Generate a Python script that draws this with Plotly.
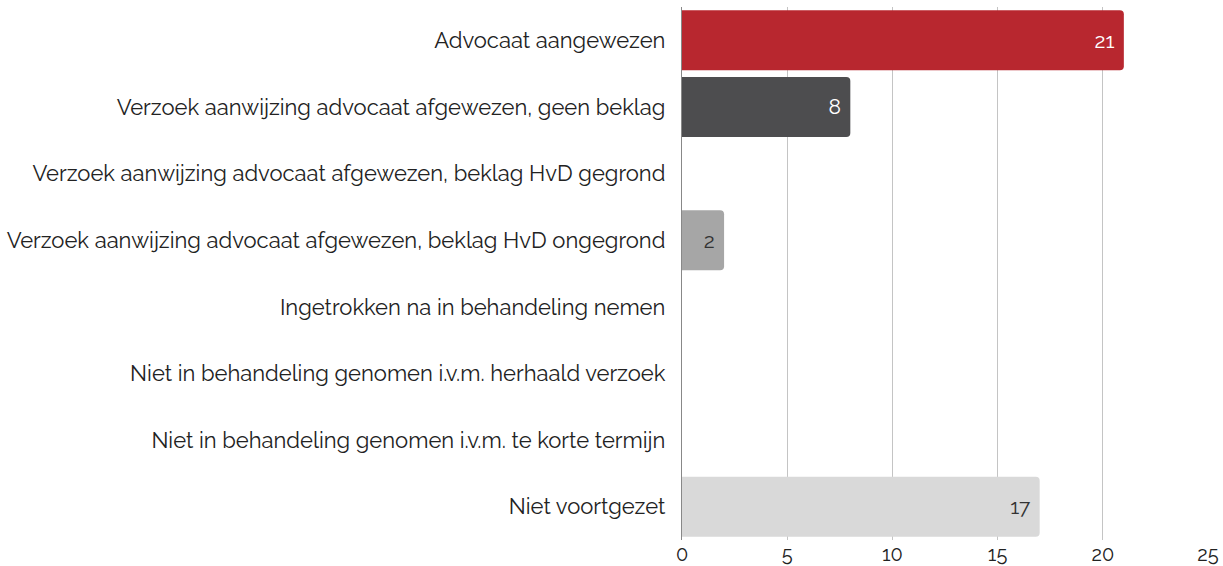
import plotly.graph_objects as go

categories = [
    "Advocaat aangewezen",
    "Verzoek aanwijzing advocaat afgewezen, geen beklag",
    "Verzoek aanwijzing advocaat afgewezen, beklag HvD gegrond",
    "Verzoek aanwijzing advocaat afgewezen, beklag HvD ongegrond",
    "Ingetrokken na in behandeling nemen",
    "Niet in behandeling genomen i.v.m. herhaald verzoek",
    "Niet in behandeling genomen i.v.m. te korte termijn",
    "Niet voortgezet",
]
values = [21, 8, 0, 2, 0, 0, 0, 17]
bar_colors = ["#B8272F", "#4D4D4F", "#7F7F7F", "#A6A6A6", "#8C8C8C", "#8C8C8C", "#8C8C8C", "#D9D9D9"]
text_colors = ["white", "white", "white", "#333333", "#333333", "#333333", "#333333", "#333333"]
tick_vals = [0, 5, 10, 15, 20, 25]

font_family = "Raleway, Lato, 'Open Sans', sans-serif"

fig = go.Figure(
    go.Bar(
        x=values,
        y=categories,
        orientation="h",
        marker=dict(color=bar_colors, cornerradius=4, line=dict(width=0)),
        width=0.9,
        text=[(str(v) + "\u00a0") if v else "" for v in values],
        textposition="inside",
        insidetextanchor="end",
        textfont=dict(family=font_family, size=21, color=text_colors),
        cliponaxis=False,
        hoverinfo="skip",
    )
)

fig.update_layout(
    width=1223,
    height=566,
    margin=dict(l=682, r=15, t=7, b=26, autoexpand=False),
    paper_bgcolor="white",
    plot_bgcolor="white",
    showlegend=False,
    font=dict(family=font_family, size=20, color="#222222"),
    bargap=0.1,
)
fig.update_xaxes(
    range=[0, 25],
    tickvals=tick_vals,
    showgrid=True,
    gridcolor="#C4C4C4",
    gridwidth=1,
    zeroline=False,
    showline=False,
    ticks="",
    automargin=False,
    tickfont=dict(size=20, color="#222222"),
)
fig.update_yaxes(
    autorange="reversed",
    showline=True,
    linecolor="#888888",
    linewidth=1,
    ticks="",
    ticksuffix="  ",
    automargin=False,
    tickfont=dict(size=22, color="#222222"),
)

fig.write_html(
    "out.html",
    config={"displayModeBar": False},
    post_script="document.body.style.margin='0';document.body.style.overflow='hidden';",
)
